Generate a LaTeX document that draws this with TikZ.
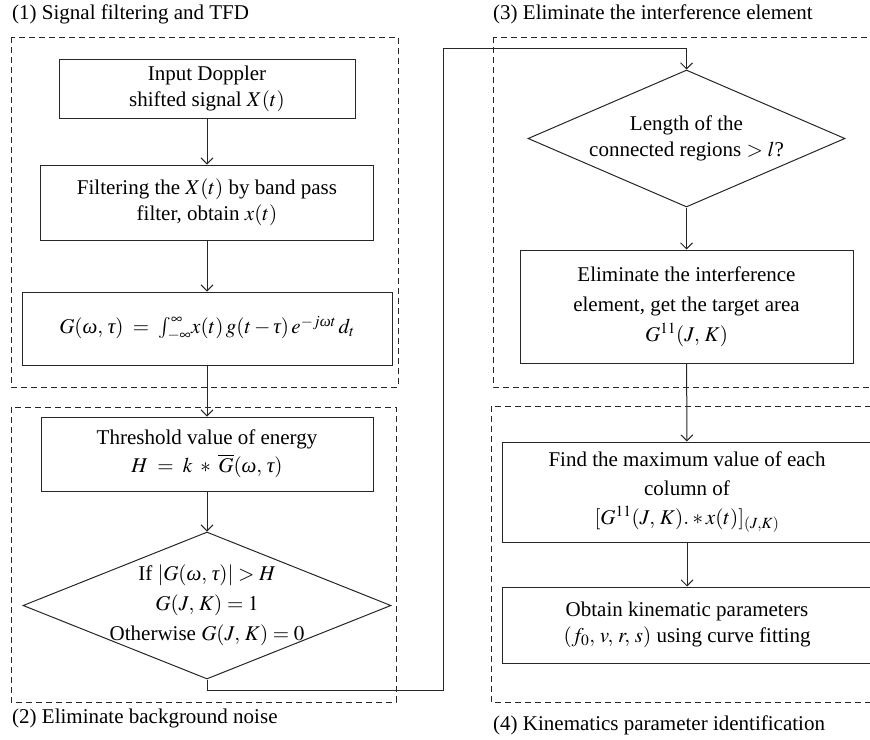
\documentclass[tikz,border=0pt]{standalone}
\usepackage{amsmath}
\usepackage{mathptmx}
\usepackage{fontspec}
\setmainfont{Liberation Serif}
\usetikzlibrary{arrows.meta,shapes.geometric}
\newcommand{\gom}{\text{\itshape ω}}
\newcommand{\gta}{\text{\itshape τ}}
\begin{document}
\begin{tikzpicture}[x=1pt,y=-1pt, font=\fontsize{21}{26}\selectfont,
 line/.style={draw=black!85, line width=1pt},
 box/.style={draw=black!85, line width=1pt, rectangle, inner sep=0pt, align=center},
 dia/.style={draw=black!85, line width=1pt, diamond, inner sep=0pt},
 frame/.style={draw=black!85, dash pattern=on 6pt off 4pt, line width=0.9pt},
 arr/.style={line, -{Straight Barb[length=6pt,width=12pt]}},
 ttl/.style={anchor=base west, inner sep=0pt}]
\useasboundingbox (0,0) rectangle (870,739);
\clip (0,0) rectangle (870,739);
% frames
\draw[frame] (11,37) rectangle (398,387);
\draw[frame] (11,407) rectangle (396,702);
\draw[frame] (493,37) rectangle (900,387);
\draw[frame] (491,406) rectangle (900,702);
% titles
\node[ttl] (t1) at (12,19) {(1) Signal filtering and TFD};
\node[ttl] (t2) at (12,723) {(2) Eliminate background noise};
\node[ttl] (t3) at (493,19) {(3) Eliminate the interference element};
\node[ttl] (t4) at (493,730) {(4) Kinematics parameter identification};
% left column
\node[box, minimum width=296, minimum height=59] (in) at (207,88.5) {Input Doppler\\ shifted signal $X(t)$};
\node[box, minimum width=333, minimum height=75] (filt) at (207,202.5) {Filtering the $X(t)$ by band pass\\ filter, obtain $x(t)$};
\node[box, minimum width=370, minimum height=73] (tfd) at (207,328.5) {$G(\gom,\,\gta) \;=\; \int_{-\infty}^{\infty}\! x(t)\,g(t-\gta)\,e^{-j\gom t}\,d_t$};
\node[box, minimum width=332, minimum height=74] (thr) at (207,454) {Threshold value of energy\\[2pt] $H \;=\; k \;*\; \overline{G}(\gom,\,\gta)$};
\node[dia, minimum width=368, minimum height=147] (d1) at (207,605.5) {};
\node[align=center, inner sep=0pt, font=\fontsize{21}{30}\selectfont] (d1t) at (d1.center) {If $|G(\gom,\,\gta)| > H$\\ $G(J,\,K) = 1$\\ Otherwise $G(J,\,K) = 0$};
% right column
\node[dia, minimum width=317, minimum height=137] (d2) at (686.5,138.5) {};
\node[align=center, inner sep=0pt] (d2t) at (d2.center) {Length of the\\ connected regions $> l$?};
\node[box, minimum width=333, minimum height=113, font=\fontsize{21}{30}\selectfont] (elim) at (686.5,306.5) {Eliminate the interference\\ element, get the target area\\ $G^{11}(J,\,K)$};
\node[box, minimum width=370, minimum height=100, font=\fontsize{21}{29}\selectfont] (find) at (687,492) {Find the maximum value of each\\ column of\\ $[G^{11}(J,\,K)._{\vphantom{1}} * x(t)]_{(J,K)}$};
\node[box, minimum width=370, minimum height=76] (obt) at (687,625) {Obtain kinematic parameters\\ $(f_0,\, v,\, r,\, s)$ using curve fitting};
% connectors
\coordinate (lpA) at (443,690);
\coordinate (lpB) at (443,48);
\draw[arr] (in) -- (filt);
\draw[arr] (filt) -- (tfd);
\draw[arr] (tfd) -- (thr);
\draw[arr] (thr) -- (d1);
\draw[arr] (d1.south) |- (lpA) -- (lpB) -| (d2.north);
\draw[arr] (d2) -- (elim);
\draw[arr] (elim) -- (find);
\draw[arr] (find) -- (obt);
\end{tikzpicture}
\end{document}
